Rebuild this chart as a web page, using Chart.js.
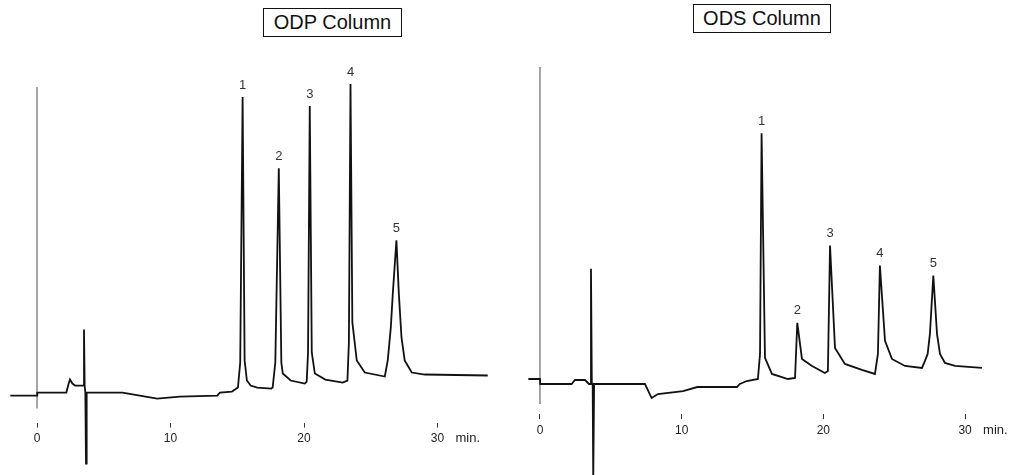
<!DOCTYPE html>
<html>
<head>
<meta charset="utf-8">
<title>ODP vs ODS Column</title>
<script src="https://cdn.jsdelivr.net/npm/chart.js@4.4.1/dist/chart.umd.min.js"></script>
<style>
    body { margin: 0; background: #fff; width: 1019px; height: 475px; overflow: hidden; position: relative; font-family: "Liberation Sans", Arial, sans-serif; }
    canvas { position: absolute; top: 0; }
    .title { position: absolute; box-sizing: border-box; border: 1.5px solid #111; font-size: 20px; color: #111; text-align: center; line-height: 26px; height: 29px; }
</style>
</head>
<body>
<div class="title" style="left:263px; top:8px; width:139px;">ODP Column</div>
<div class="title" style="left:693px; top:4px; width:138px;">ODS Column</div>
<canvas id="odpChart" width="510" height="475" style="left:0"></canvas>
<canvas id="odsChart" width="509" height="475" style="left:510px"></canvas>
<script>
// retention time (min) and detector signal (arbitrary units)
const odpTime = [-2.0, 0.0, 0.02, 2.2, 2.35, 2.47, 2.65, 2.85, 3.45, 3.52, 3.57, 3.62, 3.67, 3.72,
    6.4, 7.7, 9.0, 10.7, 13.5, 13.7, 14.6, 15.05, 15.22, 15.40, 15.55, 15.72, 16.0, 16.5, 17.55,
    17.65, 17.85, 18.11, 18.3, 18.41, 19.0, 20.06, 20.2, 20.3, 20.43, 20.58, 20.81, 21.6, 22.9,
    23.25, 23.36, 23.48, 23.62, 23.95, 24.55, 26.05, 26.27, 26.5, 26.65, 26.92, 27.1, 27.3, 27.54,
    28.07, 29.04, 33.76];
const odpSignal = [27, 27, 30, 30, 38, 43, 39, 37, 37, 93, 37, 30, -41, 30,
    30, 27, 24, 26, 27, 30, 31, 35, 60, 325, 62, 42, 37, 35, 34,
    35, 60, 254, 60, 49, 42, 39, 41, 70, 316, 70, 49, 43, 40,
    42, 80, 338, 100, 62, 50, 46, 62, 95, 129, 182, 129, 85, 62,
    50, 48, 47];

const odsTime = [-0.82, 0.0, 0.02, 2.23, 2.47, 3.18, 3.46, 3.55, 3.6, 3.66, 3.72, 3.76, 3.82,
    7.41, 7.88, 8.33, 10.1, 11.1, 13.9, 14.1, 14.6, 15.38, 15.53, 15.64, 15.88, 16.37, 17.5,
    18.0, 18.16, 18.49, 19.2, 20.11, 20.32, 20.47, 20.82, 21.52, 22.72, 23.64, 23.85, 23.99,
    24.35, 24.84, 25.76, 26.96, 27.17, 27.36, 27.52, 27.76, 28.02, 28.23, 28.58, 29.29, 31.19];
const odsSignal = [35, 35, 30, 30, 34, 34, 30, 30, 145, 30, 30, -65, 30,
    30, 16, 20, 23, 27, 27, 30, 33, 35, 60, 280, 56, 40, 35,
    36, 91, 55, 48, 41, 43, 168, 66, 50, 44, 40, 60, 148,
    73, 55, 48, 46, 53, 60, 80, 138, 80, 60, 51, 48, 46];

// injection marker (vertical line at t = 0)
const odpMarker = [335, 14];
const odsMarker = [346, 10];

const peakNumbers = ['1', '2', '3', '4', '5'];
const odpPeakTimes = [15.40, 18.11, 20.43, 23.48, 26.92];
const odsPeakTimes = [15.64, 18.16, 20.47, 23.99, 27.76];

const xTicks = [0, 10, 20, 30];
const timeUnit = 'min.';

const chromLabels = {
    id: 'chromLabels',
    afterDatasetsDraw(chart, args, opts) {
        const ctx = chart.ctx;
        const meta = chart.getDatasetMeta(0);
        const times = chart.data.datasets[0].data.map(p => p.x);
        ctx.save();
        ctx.fillStyle = '#333';
        ctx.font = '13px "Liberation Sans", Arial, sans-serif';
        ctx.textAlign = 'center';
        ctx.textBaseline = 'middle';
        opts.peaks.forEach((t, i) => {
            const pt = meta.data[times.indexOf(t)];
            ctx.fillText(peakNumbers[i], pt.x, pt.y - 12);
        });
        // unit next to the last tick label
        const xs = chart.scales.x;
        ctx.textAlign = 'left';
        ctx.fillStyle = '#222';
        ctx.fillText(timeUnit, xs.getPixelForValue(xTicks[xTicks.length - 1]) + 18, chart.chartArea.bottom + 16);
        ctx.restore();
    }
};

function makeChromatogram(id, times, signal, marker, peaks, xMin, xMax, yMax, pad) {
    const trace = times.map((t, i) => ({ x: t, y: signal[i] }));
    const markerLine = marker.map(v => ({ x: 0, y: v }));
    new Chart(document.getElementById(id).getContext('2d'), {
        type: 'line',
        data: {
            datasets: [{
                data: trace,
                borderColor: '#111',
                borderWidth: 1.8,
                pointRadius: 0,
                tension: 0,
                clip: false
            }, {
                data: markerLine,
                borderColor: '#777',
                borderWidth: 1.3,
                pointRadius: 0,
                clip: false
            }]
        },
        options: {
            responsive: false,
            animation: false,
            layout: { padding: pad },
            plugins: {
                legend: { display: false },
                tooltip: { enabled: false },
                chromLabels: { peaks: peaks }
            },
            scales: {
                x: {
                    type: 'linear',
                    min: xMin,
                    max: xMax,
                    afterBuildTicks: axis => { axis.ticks = xTicks.map(v => ({ value: v })); },
                    border: { display: false },
                    grid: { drawOnChartArea: false, drawTicks: true, tickLength: 5, color: '#333' },
                    ticks: { color: '#222', padding: 4, font: { size: 12, family: '"Liberation Sans", Arial, sans-serif' } }
                },
                y: { display: false, min: 0, max: yMax }
            }
        },
        plugins: [chromLabels]
    });
}

makeChromatogram('odpChart', odpTime, odpSignal, odpMarker, odpPeakTimes, -2, 35, 362,
    { left: 10.3, right: 5.7, top: 60, bottom: 25 });
makeChromatogram('odsChart', odsTime, odsSignal, odsMarker, odsPeakTimes, -1, 32, 353,
    { left: 15.8, right: 25.6, top: 60, bottom: 33.5 });
</script>
</body>
</html>
